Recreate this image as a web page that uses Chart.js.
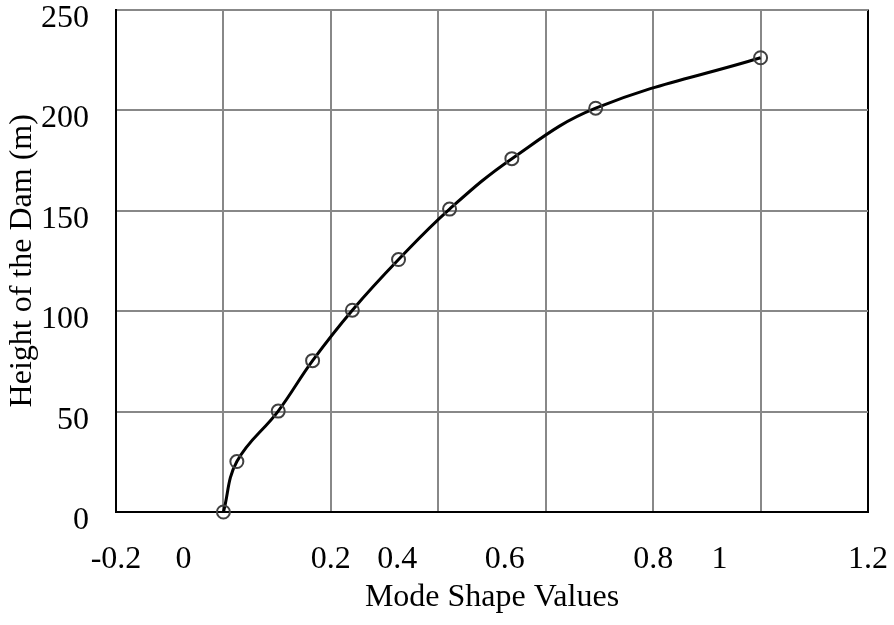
<!DOCTYPE html>
<html>
<head>
<meta charset="utf-8">
<script src="https://cdn.jsdelivr.net/npm/chart.js@4/dist/chart.umd.min.js"></script>
<style>
  html, body { margin: 0; padding: 0; background: #ffffff; }
  #wrap { width: 894px; height: 625px; }
</style>
</head>
<body>
<div id="wrap"><canvas id="chart" width="894" height="625"></canvas></div>
<script>
// Fundamental mode shape of the dam, normalised to 1 at the crest
const heights = [0, 25.1, 50.2, 75.3, 100.4, 125.6, 150.7, 175.8, 200.9, 226];
const modeShape = [0, 0.025, 0.102, 0.166, 0.24, 0.326, 0.421, 0.537, 0.693, 1.0];

// Axis ticks
const xTicks = [-0.2, 0, 0.2, 0.4, 0.6, 0.8, 1, 1.2];
const yTicks = [0, 50, 100, 150, 200, 250];

const FONT = "'Liberation Serif', 'Times New Roman', serif";
const GRID = '#888888';

// Horizontal shift (px) applied to some x tick labels, as laid out in the source figure
const xLabelShift = { '0': -40, '0.4': -41, '0.6': -41, '1': -41 };

const points = heights.map((h, i) => ({ x: modeShape[i], y: h }));

const xLabelsPlugin = {
  id: 'xLabels',
  afterDraw(chart) {
    const { ctx, scales: { x } } = chart;
    ctx.save();
    ctx.font = '32px ' + FONT;
    ctx.fillStyle = '#000000';
    ctx.textAlign = 'center';
    ctx.textBaseline = 'alphabetic';
    xTicks.forEach(v => {
      const label = String(v);
      const px = x.getPixelForValue(v) + (xLabelShift[label] || 0);
      ctx.fillText(label, px, x.top + 56);
    });
    ctx.restore();
  }
};

new Chart(document.getElementById('chart'), {
  type: 'line',
  data: {
    datasets: [{
      data: points,
      borderColor: '#000000',
      borderWidth: 3,
      tension: 0.4,
      fill: false,
      pointRadius: 6.5,
      pointHoverRadius: 6.5,
      pointBorderWidth: 2,
      pointBorderColor: '#404040',
      pointBackgroundColor: 'rgba(0,0,0,0)',
      clip: false
    }]
  },
  options: {
    responsive: false,
    animation: false,
    layout: { padding: { top: 9.5, right: 26, left: 0, bottom: 0 } },
    plugins: {
      legend: { display: false },
      tooltip: { enabled: false }
    },
    scales: {
      x: {
        type: 'linear',
        min: -0.2,
        max: 1.2,
        afterBuildTicks(scale) {
          scale.ticks = xTicks.map(v => ({ value: v }));
        },
        ticks: { display: false },
        grid: {
          drawTicks: false,
          lineWidth: 2,
          color: ctx => (ctx.tick && ctx.tick.value === 1.2 ? '#000000' : GRID)
        },
        border: { display: true, color: '#000000', width: 2 },
        title: {
          display: true,
          text: 'Mode Shape Values',
          color: '#000000',
          font: { family: FONT, size: 32 },
          padding: { top: 0, bottom: 8 }
        },
        afterFit(scale) {
          scale.height = 113;
          scale.paddingLeft = 0;
          scale.paddingRight = 0;
        }
      },
      y: {
        type: 'linear',
        min: 0,
        max: 250,
        afterBuildTicks(scale) {
          scale.ticks = yTicks.map(v => ({ value: v }));
        },
        ticks: {
          color: '#000000',
          font: { family: FONT, size: 32 },
          padding: 27,
          labelOffset: 9,
          autoSkip: false
        },
        grid: { drawTicks: false, lineWidth: 2, color: GRID },
        border: { display: true, color: '#000000', width: 2 },
        title: {
          display: true,
          text: 'Height of the Dam (m)',
          color: '#000000',
          font: { family: FONT, size: 32 },
          padding: { top: 3, bottom: 0 }
        },
        afterFit(scale) {
          scale.width = 116;
          scale.paddingTop = 0;
          scale.paddingBottom = 0;
        }
      }
    }
  },
  plugins: [xLabelsPlugin]
});
</script>
</body>
</html>
